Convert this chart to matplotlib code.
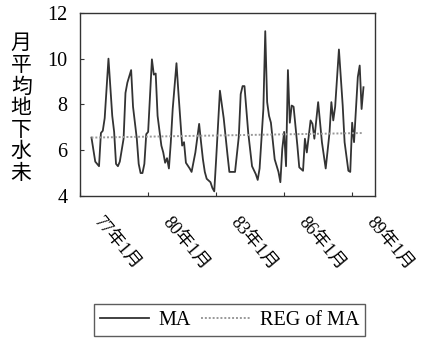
import matplotlib
matplotlib.use("Agg")
import matplotlib.pyplot as plt

# month index counted from 77年1月
months = [6, 8, 9, 10, 11, 12, 13, 15, 17, 18, 19, 20, 21, 23, 24, 25, 27, 28,
          30, 31, 32, 33, 34, 35, 36, 38, 39, 40, 41, 43, 44, 45, 46, 47, 48, 49,
          51, 52, 54, 55, 56, 58, 59, 61, 63, 64, 65, 66, 67, 69, 70, 71, 72, 74,
          76, 78, 79, 82, 84, 85, 86, 87, 89, 91, 93, 94, 95, 97, 98, 99, 100, 101,
          103, 105, 106, 107, 108, 109, 110, 111, 112, 113, 115, 116, 118, 119, 120,
          122, 123, 124, 126, 128, 130, 132, 133, 134, 135, 137, 139, 140, 142, 143,
          144, 145, 147, 148, 149, 150]
ma = [6.55, 5.5, 5.4, 5.3, 6.75, 6.85, 7.4, 10.0, 7.5, 6.8, 5.4, 5.3, 5.5, 6.5,
      8.5, 8.95, 9.5, 7.9, 6.5, 5.4, 5.0, 5.0, 5.4, 6.7, 6.8, 9.97, 9.3, 9.35,
      7.5, 6.2, 5.9, 5.45, 5.65, 5.2, 6.35, 7.8, 9.8, 8.55, 6.2, 6.35, 5.45, 5.2,
      5.05, 5.9, 7.15, 6.35, 5.6, 5.05, 4.75, 4.6, 4.35, 4.2, 5.6, 8.6, 7.4, 5.8,
      5.05, 5.05, 6.6, 8.45, 8.8, 8.8, 6.75, 5.3, 4.95, 4.7, 5.2, 7.8, 11.2, 8.1,
      7.5, 7.2, 5.6, 5.05, 4.6, 6.05, 6.8, 5.3, 9.5, 7.2, 7.95, 7.9, 6.2, 5.25,
      5.1, 6.5, 5.9, 7.3, 7.15, 6.5, 8.1, 6.35, 5.2, 6.75, 8.1, 7.3, 7.9, 10.4,
      7.95, 6.35, 5.1, 5.05, 7.2, 6.35, 9.2, 9.7, 7.8, 8.75]

reg_months = [6, 150]
reg = [6.55, 6.75]

tick_months = [0, 36, 72, 108, 144]
tick_labels = ["77年1月", "80年1月", "83年1月", "86年1月", "89年1月"]
ylabel = "月平均地下水未"

serif = ["Liberation Serif", "Noto Sans CJK JP"]

fig = plt.figure(figsize=(4.24, 3.39), dpi=100)
ax = fig.add_axes([0.189, 0.422, 0.695, 0.54])

ax.plot(months, ma, color="#333333", lw=1.3, label="MA")
ax.plot(reg_months, reg, color="#999999", lw=1.4, ls=(0, (1, 1)), label="REG of MA")

ax.set_xlim(0, 156)
ax.set_ylim(4, 12)
ax.set_yticks([4, 6, 8, 10, 12])
ax.set_xticks(tick_months)
ax.set_xticklabels([])
# rotated labels hang to the right of their tick, like the original
for m, lab in zip(tick_months, tick_labels):
    ax.annotate(lab, xy=(m, 0), xycoords=ax.get_xaxis_transform(),
                xytext=(24, -18), textcoords="offset pixels",
                rotation=-50, ha="left", va="top", rotation_mode="anchor",
                family=serif, fontsize=13, annotation_clip=False)
ax.tick_params(direction="in", length=3, width=0.8, color="#333333")
ax.tick_params(axis="y", pad=9, labelsize=14.5)
for lab in ax.get_yticklabels():
    lab.set_family(serif)
for s in ax.spines.values():
    s.set_color("#333333")
    s.set_linewidth(1.0)

fig.text(0.05, 0.681, "\n".join(ylabel), ha="center", va="center",
         family=["Noto Sans CJK JP"], fontsize=15, linespacing=0.98)

leg = fig.legend(loc="center", bbox_to_anchor=(0.542, 0.056), ncol=2,
                 frameon=True, fancybox=False, edgecolor="#333333",
                 prop={"family": serif, "size": 14.5}, handlelength=2.4,
                 columnspacing=0.5, handletextpad=0.5, borderpad=0.3)
leg.get_frame().set_linewidth(1.0)

fig.savefig("out.png", dpi=100)
